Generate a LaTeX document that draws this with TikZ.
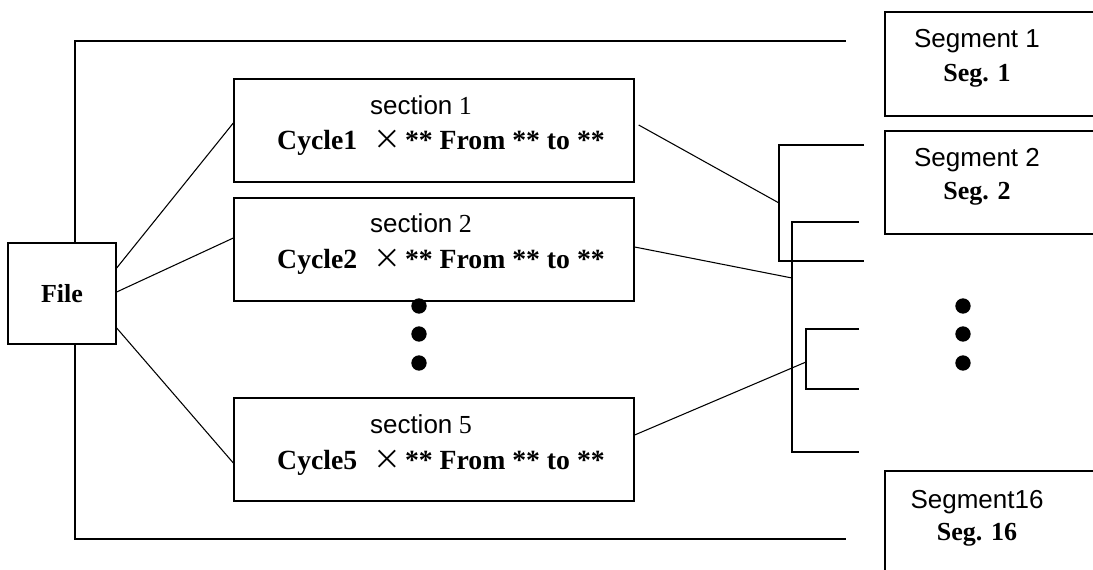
\documentclass[tikz,border=0pt]{standalone}
\usepackage{fontspec}
\setmainfont{Liberation Serif}
\newfontfamily\arial{Liberation Sans}
\newfontfamily\cjk{Noto Sans CJK SC}
\usetikzlibrary{fit,calc}
\newcommand{\cyc}[1]{\bfseries Cycle#1\hspace{0.6em}{\cjk\mdseries ×}\hspace{0.12em}** From ** to **}
\tikzset{
  box/.style={draw, line width=1pt, inner sep=0pt, rectangle},
  conn/.style={line width=0.8pt},
  txt/.style={anchor=base, inner sep=0pt, font=\fontsize{19.5}{26}\selectfont},
  ctxt/.style={anchor=base, inner sep=0pt, font=\fontsize{20.8}{26}\selectfont},
  dot/.style={fill=black, draw=none, circle, minimum size=11.5pt, inner sep=0pt}
}
\begin{document}
\begin{tikzpicture}[x=0.75pt,y=-0.75pt]
\useasboundingbox (0,0) rectangle (1093,570);
\clip (0,0) rectangle (1093,570);
% File
\node[box, fit={(8,243) (116,344)}] (file) {};
\node[txt] (filet) at (62,303) {\bfseries File};
% sections
\node[box, fit={(234,79) (634,182)}] (s1) {};
\node[box, fit={(234,198) (634,301)}] (s2) {};
\node[box, fit={(234,398) (634,501)}] (s5) {};
\node[txt] (s1a) at (421,115) {{\arial section} 1};
\node[ctxt] (s1b) at (441,150) {\cyc{1}};
\node[txt] (s2a) at (421,233) {{\arial section} 2};
\node[ctxt] (s2b) at (441,269) {\cyc{2}};
\node[txt] (s5a) at (421,433) {{\arial section} 5};
\node[ctxt] (s5b) at (441,469) {\cyc{5}};
% segments
\node[box, fit={(885,12) (1110,116)}] (g1) {};
\node[box, fit={(885,131) (1110,234)}] (g2) {};
\node[box, fit={(885,471) (1110,600)}] (g16) {};
\node[txt] (g1a) at (977,48) {\arial Segment 1};
\node[txt] (g1b) at (977,82) {\bfseries Seg. 1};
\node[txt] (g2a) at (977,167) {\arial Segment 2};
\node[txt] (g2b) at (977,200) {\bfseries Seg. 2};
\node[txt] (g16a) at (977,508) {\arial Segment16};
\node[txt] (g16b) at (977,540) {\bfseries Seg. 16};
% dots
\node[dot] (d1) at (419,306) {};
\node[dot] (d2) at (419,334) {};
\node[dot] (d3) at (419,363) {};
\node[dot] (e1) at (963,306) {};
\node[dot] (e2) at (963,334) {};
\node[dot] (e3) at (963,363) {};
% outer frame
\coordinate (ft) at (846,41);
\coordinate (fb) at (846,539);
\draw[conn] ($(file.north)+(13,0)$) |- (ft);
\draw[conn] ($(file.south)+(13,0)$) |- (fb);
% file to sections
\draw[conn] ($(file.east)+(0,-25.5)$) -- ($(s1.west)+(0,-7.5)$);
\draw[conn] ($(file.east)+(0,-1.5)$) -- ($(s2.west)+(0,-11.5)$);
\draw[conn] ($(file.east)+(0,34.5)$) -- ($(s5.west)+(0,13.5)$);
% brackets
\coordinate (b1t) at (864,145);
\coordinate (b1b) at (864,261);
\coordinate (b1m) at (779,203);
\coordinate (b2t) at (859,222);
\coordinate (b2b) at (859,452);
\coordinate (b2m) at (792,278);
\coordinate (b3t) at (859,329);
\coordinate (b3b) at (859,389);
\coordinate (b3m) at (806,362);
\draw[conn] (b1t) -| (b1m) |- (b1b);
\draw[conn] (b2t) -| (b2m) |- (b2b);
\draw[conn] (b3t) -| (b3m) |- (b3b);
\draw[conn] ($(s1.east)+(4,-5.5)$) -- (b1m);
\draw[conn] ($(s2.east)+(0,-2.5)$) -- (b2m);
\draw[conn] ($(s5.east)+(0,-14.5)$) -- (b3m);
\end{tikzpicture}
\end{document}
